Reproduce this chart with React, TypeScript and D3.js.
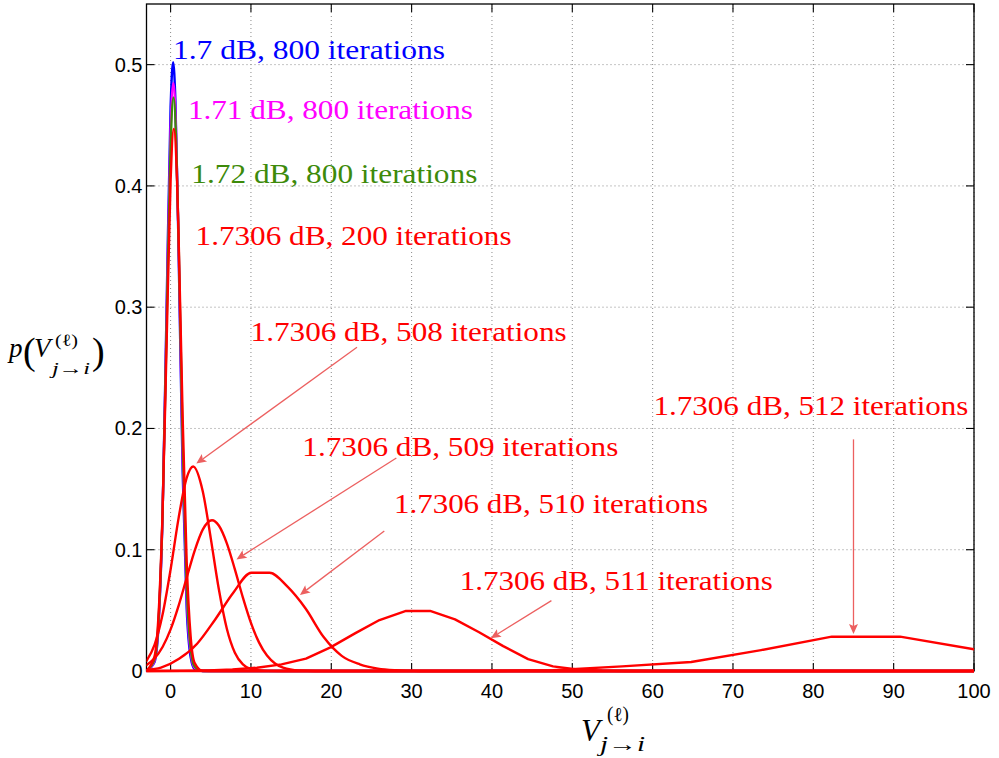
import React from 'react';
import * as d3 from 'd3';

// Canvas and plot frame (pixels)
const W = 999;
const H = 758;
const frame = { left: 146.5, right: 974, top: 4, bottom: 671 };

// Axis ranges and ticks
const xDomain: [number, number] = [-3, 100];
const yDomain: [number, number] = [0, 0.55];
const xTicks = [0, 10, 20, 30, 40, 50, 60, 70, 80, 90, 100];
const yTicks = [0, 0.1, 0.2, 0.3, 0.4, 0.5];
const xTickLabels = ['0', '10', '20', '30', '40', '50', '60', '70', '80', '90', '100'];
const yTickLabels = ['0', '0.1', '0.2', '0.3', '0.4', '0.5'];

// Message densities p(V) at each operating point: [V, p(V)]
const d1700_800: [number, number][] = [
  [-3, 0.0001], [-2, 0.0074], [-1.5, 0.0377], [-1, 0.129], [-0.5, 0.299], [0, 0.465],
  [0.31, 0.502], [0.6, 0.47], [1, 0.344], [1.5, 0.164], [2, 0.052], [2.5, 0.0113],
  [3, 0.0016], [4, 0], [100, 0],
];
const d1710_800: [number, number][] = [
  [-3, 0.0001], [-2, 0.0085], [-1.5, 0.0399], [-1, 0.129], [-0.5, 0.289], [0, 0.446],
  [0.34, 0.485], [0.7, 0.44], [1, 0.351], [1.5, 0.179], [2, 0.063], [2.5, 0.0153],
  [3, 0.0026], [4, 0], [100, 0],
];
const d1720_800: [number, number][] = [
  [-3, 0.0002], [-2, 0.0096], [-1.5, 0.042], [-1, 0.13], [-0.5, 0.283], [0, 0.433],
  [0.36, 0.473], [0.7, 0.435], [1, 0.354], [1.5, 0.189], [2, 0.071], [2.5, 0.0187],
  [3, 0.0035], [4, 0], [100, 0],
];
const d17306_200: [number, number][] = [
  [-3, 0.0003], [-2, 0.0121], [-1.5, 0.0465], [-1, 0.131], [-0.5, 0.269], [0, 0.404],
  [0.4, 0.447], [0.8, 0.404], [1, 0.357], [1.5, 0.2095], [2, 0.09], [2.5, 0.0282],
  [3, 0.0065], [4, 0.0001], [5, 0], [100, 0],
];
const d17306_508: [number, number][] = [
  [-3, 0.0084], [-2, 0.0215], [-1, 0.0465], [0, 0.0837], [1, 0.1263], [2, 0.1592],
  [2.8, 0.1686], [4, 0.1482], [5, 0.1094], [6, 0.0676], [7, 0.0349], [8, 0.0151],
  [9, 0.0054], [10, 0.0016], [12, 0.0001], [14, 0], [100, 0],
];
const d17306_509: [number, number][] = [
  [-3, 0.0049], [-2, 0.0104], [-1, 0.0198], [0, 0.0343], [1, 0.0539], [2, 0.0768],
  [3, 0.0993], [4, 0.1166], [5.15, 0.1243], [6, 0.12], [7, 0.1053], [8, 0.0838],
  [9, 0.0605], [10, 0.0397], [11, 0.0236], [12, 0.0127], [13, 0.0062], [14, 0.0028],
  [16, 0.0004], [18, 0], [100, 0],
];
const d17306_510: [number, number][] = [
  [-3, 0.0008], [-1.2, 0.0027], [1.05, 0.01], [3.3, 0.0225], [5.55, 0.0425], [7.8, 0.0645],
  [10.05, 0.081], [12.3, 0.081], [14.55, 0.0695], [16.8, 0.0515], [19.05, 0.028],
  [21.3, 0.0125], [23.55, 0.0055], [25.8, 0.002], [28.05, 0.0006], [30.3, 0.0001],
  [32.55, 0], [100, 0],
];
const d17306_511: [number, number][] = [
  [-3, 0], [1.6, 0.0002], [4.65, 0.0005], [7.7, 0.0012], [10.75, 0.0027], [13.8, 0.0055],
  [16.85, 0.0102], [19.9, 0.0195], [22.95, 0.031], [26, 0.042], [29.3, 0.0495],
  [32.3, 0.0495], [35.4, 0.0426], [38.4, 0.032], [41.4, 0.0205], [44.5, 0.0098],
  [47.6, 0.0038], [50.6, 0.0012], [53.7, 0.0003], [56.7, 0], [100, 0],
];
const d17306_512: [number, number][] = [
  [-3, 0], [39, 0], [47.6, 0.0006], [56.2, 0.0038], [64.8, 0.0074], [73.5, 0.0172],
  [82.3, 0.0283], [90.8, 0.0283], [100, 0.0179],
];

const seriesData = [d1700_800, d1710_800, d1720_800, d17306_200, d17306_508, d17306_509, d17306_510, d17306_511, d17306_512];
const seriesColors = ['#0000ff', '#ff00ff', '#3d8a0a', '#ff0000', '#ff0000', '#ff0000', '#ff0000', '#ff0000', '#ff0000'];
const seriesSmooth = [true, true, true, true, true, true, true, false, false];

// Annotation labels (anchor = left end of baseline, in data units)
const labelTexts = [
  '1.7 dB, 800 iterations',
  '1.71 dB, 800 iterations',
  '1.72 dB, 800 iterations',
  '1.7306 dB, 200 iterations',
  '1.7306 dB, 508 iterations',
  '1.7306 dB, 509 iterations',
  '1.7306 dB, 510 iterations',
  '1.7306 dB, 511 iterations',
  '1.7306 dB, 512 iterations',
];
const labelX = [0.29, 2.15, 2.58, 3.11, 9.96, 16.4, 27.8, 36.0, 60.1];
const labelY = [0.505, 0.455, 0.402, 0.351, 0.272, 0.177, 0.13, 0.0668, 0.211];
const labelWidths = [272, 285, 286, 316, 316, 316, 314, 313, 315];
const labelColors = ['#0000ff', '#ff00ff', '#3d8a0a', '#ff0000', '#ff0000', '#ff0000', '#ff0000', '#ff0000', '#ff0000'];

// Arrows pointing from labels to curves: [V, p] tail and head
const arrowTails: [number, number][] = [[23.2, 0.267], [28.1, 0.1756], [26.6, 0.1154], [47.4, 0.058], [85.0, 0.191]];
const arrowHeads: [number, number][] = [[3.2, 0.171], [8.2, 0.092], [16.1, 0.0627], [39.85, 0.027], [85.0, 0.0305]];

const arrowColor = '#ec6060';
const serif = '"Liberation Serif", "DejaVu Serif", serif';
const sans = '"Liberation Sans", Arial, Helvetica, sans-serif';

function Arrow({ x1, y1, x2, y2 }: { x1: number; y1: number; x2: number; y2: number }) {
  const dx = x2 - x1;
  const dy = y2 - y1;
  const len = Math.hypot(dx, dy);
  const ux = dx / len;
  const uy = dy / len;
  const nx = -uy;
  const ny = ux;
  const L = 10;
  const hw = 4.5;
  const notch = 2;
  const bx = x2 - L * ux;
  const by = y2 - L * uy;
  const mx = x2 - (L - notch) * ux;
  const my = y2 - (L - notch) * uy;
  const pts = [
    [x2, y2],
    [bx + hw * nx, by + hw * ny],
    [mx, my],
    [bx - hw * nx, by - hw * ny],
  ]
    .map((p) => p.join(','))
    .join(' ');
  return (
    <g>
      <line x1={x1} y1={y1} x2={mx} y2={my} stroke={arrowColor} strokeWidth={1.3} />
      <polygon points={pts} fill={arrowColor} />
    </g>
  );
}

export default function App() {
  const x = d3.scaleLinear().domain(xDomain).range([frame.left, frame.right]);
  const y = d3.scaleLinear().domain(yDomain).range([frame.bottom, frame.top]);

  const smoothLine = d3
    .line<[number, number]>()
    .x((d) => x(d[0]))
    .y((d) => y(d[1]))
    .curve(d3.curveMonotoneX);
  const straightLine = d3
    .line<[number, number]>()
    .x((d) => x(d[0]))
    .y((d) => y(d[1]))
    .curve(d3.curveLinear);

  const tickLen = 8;

  return (
    <svg
      width={W}
      height={H}
      viewBox={`0 0 ${W} ${H}`}
      style={{ position: 'absolute', left: 0, top: 0, background: '#fff' }}
    >
      <defs>
        <clipPath id="plotClip">
          <rect x={frame.left} y={frame.top - 2} width={frame.right - frame.left} height={frame.bottom - frame.top + 6} />
        </clipPath>
      </defs>
      <rect x={0} y={0} width={W} height={H} fill="#fff" />

      {/* grid */}
      <g stroke="#8a8a8a" strokeWidth={1} strokeDasharray="1 3">
        {xTicks.map((t) => (
          <line key={`gx${t}`} x1={x(t)} x2={x(t)} y1={frame.top} y2={frame.bottom} />
        ))}
        {yTicks.slice(1).map((t) => (
          <line key={`gy${t}`} x1={frame.left} x2={frame.right} y1={y(t)} y2={y(t)} />
        ))}
      </g>

      {/* frame and ticks */}
      <rect
        x={frame.left}
        y={frame.top}
        width={frame.right - frame.left}
        height={frame.bottom - frame.top}
        fill="none"
        stroke="#000"
        strokeWidth={1.3}
      />
      <g stroke="#000" strokeWidth={1.1}>
        {xTicks.map((t) => (
          <g key={`tx${t}`}>
            <line x1={x(t)} x2={x(t)} y1={frame.bottom} y2={frame.bottom - tickLen} />
            <line x1={x(t)} x2={x(t)} y1={frame.top} y2={frame.top + tickLen} />
          </g>
        ))}
        {yTicks.map((t) => (
          <g key={`ty${t}`}>
            <line x1={frame.left} x2={frame.left + tickLen} y1={y(t)} y2={y(t)} />
            <line x1={frame.right} x2={frame.right - tickLen} y1={y(t)} y2={y(t)} />
          </g>
        ))}
      </g>

      {/* tick labels */}
      <g fontFamily={sans} fontSize={20} fill="#000">
        {xTicks.map((t, i) => (
          <text key={`lx${t}`} x={x(t)} y={698} textAnchor="middle">
            {xTickLabels[i]}
          </text>
        ))}
        {yTicks.map((t, i) => (
          <text key={`ly${t}`} x={frame.left - 4} y={y(t) + 7} textAnchor="end">
            {yTickLabels[i]}
          </text>
        ))}
      </g>

      {/* density curves */}
      <g clipPath="url(#plotClip)" fill="none" strokeWidth={2.4} strokeLinejoin="round" strokeLinecap="round">
        {seriesData.map((s, i) => (
          <path
            key={`s${i}`}
            d={(seriesSmooth[i] ? smoothLine : straightLine)(s) || ''}
            stroke={seriesColors[i]}
          />
        ))}
      </g>

      {/* arrows */}
      {arrowTails.map((tail, i) => (
        <Arrow
          key={`a${i}`}
          x1={x(tail[0])}
          y1={y(tail[1])}
          x2={x(arrowHeads[i][0])}
          y2={y(arrowHeads[i][1])}
        />
      ))}

      {/* annotation labels */}
      <g fontFamily={serif} fontSize={28}>
        {labelTexts.map((t, i) => (
          <text
            key={`t${i}`}
            x={x(labelX[i])}
            y={y(labelY[i])}
            fill={labelColors[i]}
            textLength={labelWidths[i]}
            lengthAdjust="spacingAndGlyphs"
          >
            {t}
          </text>
        ))}
      </g>

      {/* y axis label: p(V_{j→i}^{(ℓ)}) */}
      <g fontFamily={serif} fill="#000">
        <text x={9} y={357} fontSize={27} fontStyle="italic">p</text>
        <text x={23} y={364} fontSize={38}>(</text>
        <text x={34} y={357} fontSize={27} fontStyle="italic">V</text>
        <text x={55} y={346} fontSize={17} textLength={23} lengthAdjust="spacingAndGlyphs">(ℓ)</text>
        <text x={52} y={374} fontSize={17} fontStyle="italic" textLength={38} lengthAdjust="spacingAndGlyphs">j→i</text>
        <text x={92} y={364} fontSize={38}>)</text>
      </g>

      {/* x axis label: V_{j→i}^{(ℓ)} */}
      <g fontFamily={serif} fill="#000">
        <text x={581} y={741} fontSize={31} fontStyle="italic">V</text>
        <text x={607} y={721} fontSize={20} textLength={22} lengthAdjust="spacingAndGlyphs">(ℓ)</text>
        <text x={600} y={751} fontSize={20} fontStyle="italic" textLength={45} lengthAdjust="spacingAndGlyphs">j→i</text>
      </g>
    </svg>
  );
}
